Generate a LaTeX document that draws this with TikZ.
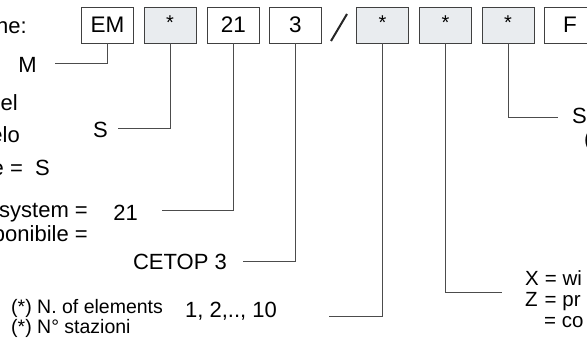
\documentclass[tikz,border=0pt]{standalone}
\usepackage{fontspec}
\setmainfont{Liberation Sans}
\begin{document}
\begin{tikzpicture}[x=1pt,y=-1pt,
  box/.style={draw=black!75,line width=0.8pt,fill=white,minimum width=52pt,minimum height=36pt,inner sep=0pt,font=\fontsize{22.5}{26}\selectfont},
  gbox/.style={box,fill=gfill},
  lab/.style={inner sep=0pt,font=\fontsize{22}{26}\selectfont},
  slab/.style={inner sep=0pt,font=\fontsize{19.5}{23}\selectfont},
  rlab/.style={inner sep=0pt,font=\fontsize{20.5}{24}\selectfont},
  conn/.style={draw=black!70,line width=0.8pt}]
\definecolor{gfill}{HTML}{E9ECEF}
\useasboundingbox (0,0) rectangle (587,343);
% boxes
\node[box]  (em) at (107.5,25) {EM};
\node[gbox] (s1) at (170,25) {\raisebox{4pt}{\fontsize{20}{22}\selectfont *}};
\node[box]  (b21) at (233.5,25) {21};
\node[box]  (b3) at (295.5,25) {3};
\draw[black!85,line width=2pt] (331,41) -- (347,14);
\node[gbox] (s2) at (382.5,25) {\raisebox{4pt}{\fontsize{20}{22}\selectfont *}};
\node[gbox] (s3) at (445.5,25) {\raisebox{4pt}{\fontsize{20}{22}\selectfont *}};
\node[gbox] (s4) at (508,25) {\raisebox{4pt}{\fontsize{20}{22}\selectfont *}};
\node[box]  (bF) at (570,25) {F};
% left labels
\node[lab,anchor=base east] (tne) at (27,33) {ne:};
\node[lab,anchor=base east] (tM) at (37,72) {M};
\node[lab,anchor=base east] (tel) at (18,110) {el};
\node[lab,anchor=base east] (telo) at (20,142) {elo};
\node[lab,anchor=base east] (tS1) at (108,137) {S};
\node[lab,anchor=base east] (teS) at (50,175) {e =\ \ S};
\node[lab,anchor=base east] (tsys) at (88,217) {system =};
\node[lab,anchor=base east] (t21) at (138,220) {21};
\node[lab,anchor=base east] (tpon) at (88,241) {ponibile =};
\node[lab,anchor=base east] (tcet) at (227,269) {CETOP 3};
\node[slab,anchor=base west] (tnel) at (11,313) {(*) N. of elements};
\node[slab,anchor=base west] (tnst) at (11,333) {(*) N° stazioni};
\node[lab,anchor=base west] (t110) at (185,317) {1, 2,.., 10};
% right labels
\node[lab,anchor=base west] (tS4) at (572,123) {S};
\node[lab,anchor=base west] (tpar) at (584,146) {(};
\node[rlab,anchor=base west] (tX) at (525,285) {X\hspace{6pt}= wi};
\node[rlab,anchor=base west] (tZ) at (525,306) {Z\hspace{7pt}= pr};
\node[rlab,anchor=base west] (tco) at (544,327) {= co};
% connector ends
\coordinate (eM) at (55,63);
\coordinate (eS1) at (118,128);
\coordinate (e21) at (162,210);
\coordinate (e3) at (243,261);
\coordinate (e2) at (329,316);
\coordinate (e3r) at (502,292);
\coordinate (e4) at (558,117);
% connectors
\draw[conn] (em.south) |- (eM);
\draw[conn] (s1.south) |- (eS1);
\draw[conn] (b21.south) |- (e21);
\draw[conn] (b3.south) |- (e3);
\draw[conn] (s2.south) |- (e2);
\draw[conn] (s3.south) |- (e3r);
\draw[conn] (s4.south) |- (e4);
\end{tikzpicture}
\end{document}
